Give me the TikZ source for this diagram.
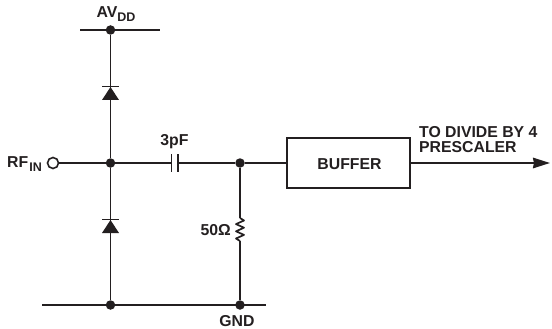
\documentclass[tikz,border=0pt]{standalone}
\usepackage{fontspec}
\setmainfont{Liberation Sans}
\usepackage{tikz}
\usetikzlibrary{arrows.meta,positioning}
\definecolor{ink}{HTML}{231F20}
\newcommand{\subtxt}[1]{\raisebox{-4pt}{\fontsize{12.5}{13}\selectfont #1}}
\tikzset{
  wire/.style={draw=ink,line width=1.7pt},
  dot/.style={circle,fill=ink,inner sep=0pt,minimum size=9.5pt},
  pin/.style={circle,draw=ink,fill=white,line width=1.6pt,inner sep=0pt,minimum size=11pt},
  lbl/.style={text=ink,font=\bfseries\fontsize{15.8}{16}\selectfont,inner sep=0pt},
  blockbox/.style={draw=ink,line width=2pt,fill=white,minimum width=123pt,minimum height=50pt,inner sep=0pt}
}
\begin{document}
\begin{tikzpicture}[x=1pt,y=-1pt]
\useasboundingbox (0,0) rectangle (552,329);
% Rails
\coordinate (vddL) at (80,30);
\coordinate (vddR) at (159.5,30);
\coordinate (gndL) at (42,305);
\coordinate (gndR) at (266,305);
\draw[wire] (vddL) -- (vddR);
\draw[wire,line width=2pt] (gndL) -- (gndR);
% Junctions
\node[dot] (vddJ) at (110.5,30) {};
\node[dot] (rfJ) at (110.5,163) {};
\node[dot] (capJ) at (240,163) {};
\node[dot] (gndA) at (110.5,305) {};
\node[dot] (gndB) at (240,305) {};
\node[pin] (rfPin) at (53,163) {};
% Plates of the capacitor
\coordinate (capA) at (171.5,163);
\coordinate (capB) at (178,163);
% Resistor ends
\coordinate (resT) at (240,218);
\coordinate (resB) at (240,241);
% Buffer
\node[blockbox] (buffer) at (348.5,163) {};
\node[lbl,anchor=base] (bufTxt) at (349.5,169) {BUFFER};
\coordinate (outEnd) at (550,163);
% Wires
\draw[wire] (vddJ) -- (rfJ);
\draw[wire] (rfJ) -- (gndA);
\draw[wire] (rfPin) -- (rfJ);
\draw[wire] (rfJ) -- (capA);
\draw[wire] (capB) -- (capJ);
\draw[wire] (capJ) -- (buffer);
\draw[wire] (capJ) -- (resT);
\draw[wire] (resB) -- (gndB);
\draw[wire,line width=2pt,-{Stealth[length=17pt,width=10.5pt,inset=1pt]}] (buffer) -- (outEnd);
% Capacitor
\draw[wire] (171.5,154) -- (171.5,172);
\draw[wire] (178,154) -- (178,172);
% Resistor
\draw[wire,line join=round] (resT) -- ++(4,2.5) -- ++(-8,3.6) -- ++(8,3.6) -- ++(-8,3.6) -- ++(8,3.6) -- ++(-8,3.6) -- (resB);
% Diodes
\fill[ink] (110.5,87) -- (119,100) -- (102,100) -- cycle;
\draw[wire] (102,86.5) -- (119,86.5);
\fill[ink] (110.5,220) -- (119,233) -- (102,233) -- cycle;
\draw[wire] (102,219.5) -- (119,219.5);
% Labels
\node[lbl,anchor=base] (vddTxt) at (116,18) {AV\subtxt{DD}};
\node[lbl,anchor=base east] (rfTxt) at (42,167) {RF\kern1pt\subtxt{IN}};
\node[lbl,anchor=base] (capTxt) at (174.5,146) {3pF};
\node[lbl,anchor=base east] (resTxt) at (231,235) {50Ω};
\node[lbl,anchor=base] (gndTxt) at (237,326) {GND};
\node[lbl,anchor=base west] (outA) at (419,137) {TO DIVIDE BY 4};
\node[lbl,anchor=base west] (outB) at (419,153) {PRESCALER};
\end{tikzpicture}
\end{document}
